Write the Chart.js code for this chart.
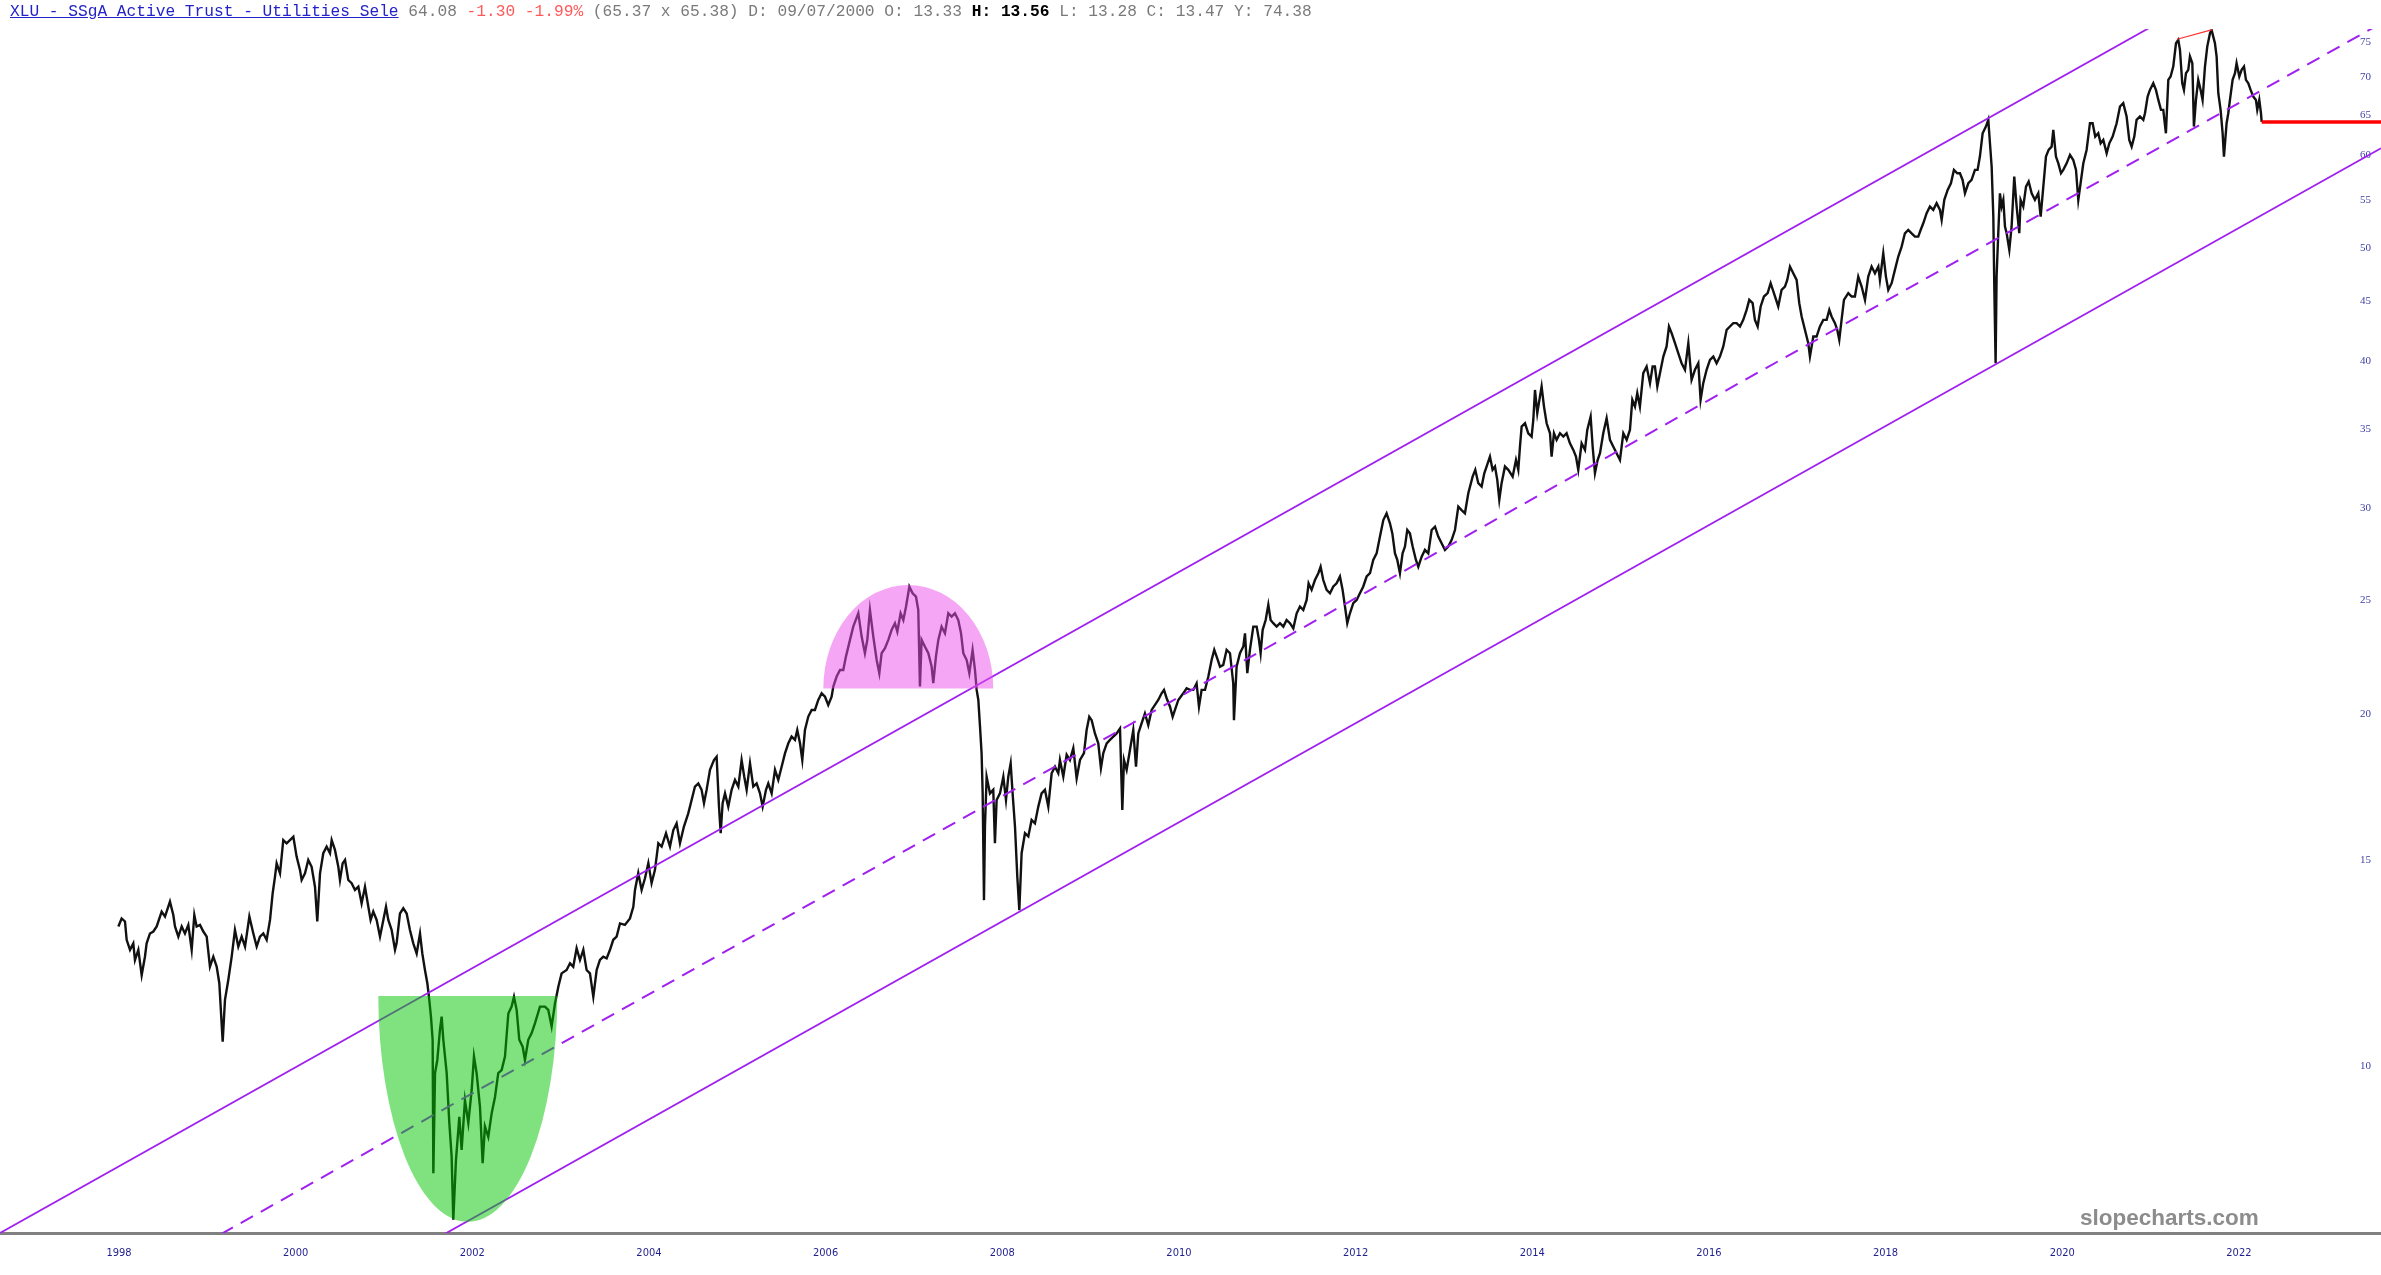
<!DOCTYPE html>
<html><head><meta charset="utf-8">
<script src="https://cdn.jsdelivr.net/npm/chart.js@4.4.1/dist/chart.umd.min.js"></script>
<style>
html,body{margin:0;padding:0;background:#fff;}
#wrap{position:relative;width:2381px;height:1275px;overflow:hidden;background:#fff;}
#c{position:absolute;left:0;top:0;}
#hdr{position:absolute;left:10px;top:3px;font-family:'Liberation Mono','DejaVu Sans Mono',monospace;font-size:16.2px;line-height:18px;white-space:pre;color:#7a7a7a;}
#hdr .lnk{color:#2323c8;text-decoration:underline;}
#hdr .neg{color:#ff5a5a;}
#hdr .b{color:#000;font-weight:bold;}
#wm{position:absolute;left:2080px;top:1206px;font-family:'Liberation Sans',Arial,sans-serif;font-weight:bold;font-size:22.5px;line-height:24px;color:#8c8c8c;white-space:pre;}
</style></head>
<body><div id="wrap">
<canvas id="c" width="2381" height="1275"></canvas>
<div id="hdr"><span class="lnk">XLU - SSgA Active Trust - Utilities Sele</span> 64.08 <span class="neg">-1.30 -1.99%</span> (65.37 x 65.38) D: 09/07/2000 O: 13.33 <span class="b">H: 13.56</span> L: 13.28 C: 13.47 Y: 74.38</div>
<div id="wm">slopecharts.com</div>
</div>
<script>
const xTickLabels = ['1998','2000','2002','2004','2006','2008','2010','2012','2014','2016','2018','2020','2022'];
const yTickValues = [10,15,20,25,30,35,40,45,50,55,60,65,70,75];
const xRange = [1996.653, 2023.609];
const yRange = [7.2, 76.94];

const priceDates = [
1997.993,1998.030,1998.068,1998.087,1998.125,1998.162,1998.181,1998.219,1998.257,1998.294,
1998.313,1998.351,1998.389,1998.427,1998.483,1998.521,1998.577,1998.615,1998.634,1998.672,
1998.710,1998.747,1998.785,1998.823,1998.853,1998.879,1998.917,1998.955,1998.993,1999.030,
1999.068,1999.106,1999.136,1999.174,1999.200,1999.238,1999.276,1999.313,1999.351,1999.389,
1999.427,1999.476,1999.521,1999.559,1999.596,1999.634,1999.672,1999.710,1999.740,1999.766,
1999.785,1999.823,1999.860,1999.898,1999.936,1999.974,2000.011,2000.049,2000.068,2000.106,
2000.143,2000.181,2000.219,2000.245,2000.276,2000.313,2000.351,2000.389,2000.408,2000.445,
2000.483,2000.502,2000.532,2000.559,2000.596,2000.634,2000.672,2000.710,2000.747,2000.785,
2000.823,2000.849,2000.879,2000.917,2000.955,2000.993,2001.023,2001.049,2001.087,2001.125,
2001.143,2001.181,2001.219,2001.257,2001.294,2001.332,2001.370,2001.408,2001.434,2001.464,
2001.491,2001.513,2001.532,2001.551,2001.559,2001.578,2001.604,2001.634,2001.653,2001.672,
2001.710,2001.740,2001.766,2001.785,2001.815,2001.853,2001.879,2001.917,2001.955,2001.993,
2002.019,2002.049,2002.087,2002.117,2002.143,2002.181,2002.219,2002.257,2002.294,2002.332,
2002.370,2002.408,2002.445,2002.472,2002.502,2002.532,2002.570,2002.596,2002.634,2002.672,
2002.710,2002.766,2002.823,2002.860,2002.898,2002.936,2002.974,2003.011,2003.068,2003.106,
2003.143,2003.181,2003.219,2003.257,2003.294,2003.332,2003.370,2003.408,
2003.445,2003.483,2003.521,2003.559,2003.596,2003.634,2003.672,2003.728,2003.785,2003.823,
2003.842,2003.879,2003.917,2003.955,2003.993,2004.030,2004.068,2004.106,2004.144,2004.193,
2004.238,2004.276,2004.313,2004.351,2004.396,2004.445,2004.483,2004.521,2004.559,2004.596,
2004.623,2004.653,2004.691,2004.736,2004.766,2004.793,2004.812,2004.834,2004.861,2004.898,
2004.936,2004.974,2005.012,2005.049,2005.079,2005.106,2005.144,2005.181,2005.219,2005.257,
2005.287,2005.325,2005.351,2005.389,2005.427,2005.464,2005.502,2005.540,2005.578,2005.615,
2005.653,2005.679,2005.710,2005.736,2005.766,2005.804,2005.842,2005.879,2005.917,2005.955,
2005.993,2006.030,2006.068,2006.087,2006.125,2006.163,2006.200,2006.230,2006.276,2006.313,
2006.370,2006.408,2006.445,2006.472,2006.502,2006.540,2006.578,2006.608,2006.634,2006.672,
2006.710,2006.747,2006.785,2006.812,2006.849,2006.880,2006.910,2006.948,2006.985,2007.023,
2007.049,2007.068,2007.087,2007.125,2007.163,2007.200,2007.219,2007.249,2007.276,2007.313,
2007.351,2007.389,2007.427,2007.464,2007.502,2007.533,2007.559,2007.597,2007.627,2007.664,
2007.691,2007.710,2007.729,2007.748,2007.766,2007.778,2007.793,2007.804,2007.823,2007.861,
2007.898,2007.917,2007.936,2007.974,2008.012,2008.042,2008.068,2008.095,2008.117,2008.144,
2008.170,2008.193,2008.219,2008.257,2008.295,2008.332,2008.370,2008.408,2008.445,2008.483,
2008.521,2008.559,2008.597,2008.634,
2008.653,2008.691,2008.729,2008.766,2008.804,2008.842,2008.880,2008.925,2008.955,2008.985,
2009.012,2009.049,2009.087,2009.117,2009.144,2009.182,2009.219,2009.257,2009.295,2009.333,
2009.359,2009.378,2009.408,2009.446,2009.483,2009.514,2009.540,2009.578,2009.615,2009.653,
2009.691,2009.729,2009.766,2009.804,2009.831,2009.861,2009.899,2009.929,2009.955,2009.993,
2010.049,2010.087,2010.125,2010.163,2010.200,2010.227,2010.257,2010.295,2010.333,2010.370,
2010.400,2010.427,2010.465,2010.502,2010.540,2010.578,2010.615,2010.623,2010.653,2010.691,
2010.729,2010.748,2010.774,2010.804,2010.842,2010.880,2010.906,2010.925,2010.948,2010.982,
2011.012,2011.038,2011.068,2011.106,2011.144,2011.182,2011.219,2011.257,2011.295,2011.333,
2011.370,2011.408,2011.446,2011.468,2011.502,2011.540,2011.578,2011.604,2011.634,2011.672,
2011.710,2011.748,2011.785,2011.823,2011.853,2011.880,2011.906,2011.936,2011.974,2012.012,
2012.049,2012.087,2012.125,2012.163,2012.200,2012.238,2012.276,2012.314,2012.351,2012.389,
2012.416,2012.446,2012.472,2012.502,2012.532,2012.559,2012.585,2012.615,2012.646,2012.683,
2012.710,2012.748,2012.785,2012.823,2012.861,2012.899,2012.936,2012.974,2013.012,2013.049,
2013.087,2013.125,2013.163,2013.200,2013.238,2013.276,2013.325,2013.355,2013.389,2013.427,
2013.457,2013.483,2013.521,2013.551,2013.578,2013.604,2013.627,2013.653,2013.691,2013.729,
2013.778,2013.816,2013.842,2013.861,
2013.880,2013.918,2013.955,2013.993,2014.012,2014.031,2014.057,2014.087,2014.106,2014.133,
2014.163,2014.201,2014.219,2014.246,2014.276,2014.314,2014.352,2014.389,2014.427,2014.465,
2014.495,2014.521,2014.559,2014.597,2014.623,2014.661,2014.684,2014.710,2014.740,2014.767,
2014.804,2014.842,2014.880,2014.918,2014.955,2014.993,2015.031,2015.069,2015.106,2015.133,
2015.163,2015.189,2015.219,2015.257,2015.295,2015.333,2015.363,2015.389,2015.416,2015.446,
2015.484,2015.521,2015.548,2015.578,2015.616,2015.653,2015.691,2015.729,2015.767,2015.804,
2015.842,2015.880,2015.906,2015.936,2015.974,2016.012,2016.050,2016.087,2016.125,2016.163,
2016.201,2016.238,2016.276,2016.314,2016.352,2016.389,2016.427,2016.457,2016.495,2016.521,
2016.552,2016.586,2016.623,2016.665,2016.699,2016.736,2016.785,2016.823,2016.861,2016.887,
2016.918,2016.955,2016.993,2017.023,2017.050,2017.087,2017.125,2017.144,2017.182,2017.219,
2017.257,2017.295,2017.333,2017.363,2017.389,2017.427,2017.453,2017.476,2017.502,2017.529,
2017.578,2017.616,2017.653,2017.691,2017.729,2017.767,2017.804,2017.842,2017.880,2017.918,
2017.936,2017.974,2018.004,2018.031,2018.069,2018.106,2018.144,2018.182,2018.219,2018.257,
2018.295,2018.333,2018.370,2018.397,2018.427,2018.465,2018.502,2018.540,2018.578,2018.616,
2018.635,2018.665,2018.703,2018.740,2018.774,2018.812,2018.842,2018.872,2018.899,2018.937,
2018.974,2019.012,2019.042,2019.068,2019.099,2019.136,2019.163,2019.182,2019.201,
2019.220,2019.231,2019.246,2019.257,2019.276,2019.295,2019.314,2019.333,2019.352,2019.371,
2019.401,2019.427,2019.457,2019.484,2019.514,2019.529,2019.559,2019.590,2019.620,2019.654,
2019.691,2019.729,2019.756,2019.786,2019.816,2019.846,2019.880,2019.899,2019.929,2019.956,
2019.986,2020.012,2020.050,2020.088,2020.125,2020.156,2020.182,2020.208,2020.239,2020.276,
2020.314,2020.344,2020.374,2020.408,2020.435,2020.465,2020.503,2020.533,2020.571,2020.616,
2020.654,2020.691,2020.729,2020.759,2020.786,2020.816,2020.842,2020.880,2020.918,2020.937,
2020.967,2020.993,2021.031,2021.061,2021.088,2021.118,2021.144,2021.174,2021.201,2021.227,
2021.257,2021.288,2021.314,2021.333,2021.359,2021.378,2021.401,2021.427,2021.446,2021.473,
2021.491,2021.514,2021.540,2021.567,2021.589,2021.616,2021.642,2021.673,2021.691,2021.710,
2021.729,2021.748,2021.767,2021.793,2021.816,2021.831,2021.846,2021.861,2021.880,2021.899,
2021.929,2021.956,2021.974,2022.005,2022.031,2022.058,2022.080,2022.107,2022.133,2022.163,
2022.193,2022.208,2022.231,2022.250,2022.258
];
const priceValues = [
13.16,13.37,13.29,12.82,12.57,12.73,12.32,12.57,11.96,12.40,
12.73,12.98,13.03,13.16,13.55,13.42,13.82,13.46,13.16,12.90,
13.16,12.98,13.20,12.57,13.46,13.16,13.20,13.03,12.90,12.16,
12.40,12.16,11.77,10.49,11.39,11.85,12.40,13.07,12.65,12.90,
12.65,13.42,12.98,12.65,12.90,12.98,12.82,13.33,14.05,14.51,
14.90,14.61,15.60,15.50,15.60,15.70,15.10,14.71,14.42,14.61,
15.00,14.80,14.23,13.29,14.61,15.20,15.40,15.20,15.60,15.30,
14.80,14.42,14.90,15.00,14.42,14.33,14.14,14.23,13.77,14.23,
13.68,13.33,13.55,13.33,12.90,13.33,13.68,13.33,13.07,12.57,
12.73,13.50,13.64,13.50,13.07,12.73,12.48,12.98,12.48,12.08,
11.77,11.39,11.02,10.53,8.10,9.86,10.12,10.74,11.02,10.53,
9.86,8.94,8.37,7.39,8.31,9.05,8.48,9.35,8.94,9.54,
10.19,9.86,9.23,8.26,8.88,8.70,9.11,9.41,9.86,9.92,
10.19,11.09,11.24,11.46,11.17,10.53,10.39,10.12,10.53,10.67,
10.88,11.24,11.24,11.17,10.81,11.31,11.69,12.00,12.08,12.24,
12.16,12.61,12.32,12.57,12.08,12.00,11.46,12.08,
12.32,12.40,12.36,12.57,12.82,12.90,13.24,13.20,13.37,13.68,
14.14,14.62,14.14,14.47,14.91,14.33,14.71,15.50,15.40,15.81,
15.40,15.91,16.12,15.50,16.02,16.44,16.88,17.33,17.44,17.22,
16.77,17.22,17.91,18.26,18.38,16.66,15.81,16.77,17.10,16.66,
17.22,17.56,17.33,18.26,17.67,17.22,18.14,17.33,17.44,17.10,
16.66,17.22,17.44,17.10,17.91,17.56,18.02,18.50,18.87,19.12,
19.00,19.37,18.87,18.26,19.37,19.89,20.15,20.15,20.55,20.82,
20.68,20.35,20.68,21.10,21.52,21.80,21.80,22.38,23.13,23.74,
24.37,23.28,22.53,23.13,24.53,23.28,22.23,21.66,22.53,22.75,
23.13,23.58,23.90,23.51,24.37,24.05,24.69,25.68,25.35,25.18,
24.53,21.10,23.13,22.82,22.53,21.95,21.24,22.38,23.13,23.74,
23.43,24.37,24.21,24.37,24.05,23.43,22.53,22.23,21.66,22.67,
21.80,20.96,20.55,19.50,18.50,17.10,13.86,16.02,17.67,17.10,
17.22,15.50,16.88,17.10,17.67,16.88,17.67,18.14,17.10,16.02,
14.52,13.59,15.20,15.81,15.71,16.23,16.12,16.66,17.10,17.22,
16.66,17.79,18.02,17.79,
18.26,17.67,18.45,18.26,18.69,17.61,18.26,18.51,19.37,19.88,
19.75,19.24,18.87,17.97,18.51,18.87,19.00,19.12,19.24,19.43,
16.55,18.26,17.91,18.63,19.37,18.02,19.24,19.63,20.01,19.56,
20.15,20.35,20.55,20.82,20.96,20.62,20.28,19.88,20.15,20.55,
20.82,21.03,20.96,20.96,21.23,20.28,20.96,20.96,21.52,22.23,
22.68,22.38,21.94,22.02,22.68,22.53,21.23,19.75,21.94,22.53,
22.83,23.43,21.66,22.68,23.74,23.74,23.13,22.53,23.59,24.05,
24.78,24.05,23.90,23.74,23.90,23.74,24.05,23.90,23.66,24.37,
24.70,24.53,25.02,25.85,25.52,26.02,26.37,26.71,26.02,25.52,
25.35,25.69,25.85,26.20,25.52,24.70,23.90,24.37,24.86,25.02,
25.35,25.69,26.20,26.37,27.07,27.42,28.34,29.28,29.67,29.09,
28.52,27.42,27.07,26.37,27.42,27.79,28.71,28.52,27.79,27.07,
26.71,27.24,27.61,27.42,28.71,28.90,28.34,27.97,27.61,27.79,
28.15,28.71,30.06,29.86,29.67,30.86,31.89,32.32,31.48,31.27,
32.10,32.53,33.17,32.32,32.53,31.69,30.46,31.48,32.53,32.32,
31.89,32.95,32.32,33.83,
35.19,35.42,34.73,34.50,35.65,37.82,36.13,37.33,38.08,36.60,
35.42,34.73,33.17,34.73,34.28,34.73,34.50,34.73,34.05,33.61,
33.17,32.31,34.05,33.61,34.96,35.89,33.82,32.11,32.95,33.39,
34.73,35.77,34.28,33.82,33.39,32.95,34.73,34.28,34.96,37.09,
36.60,37.58,36.60,39.09,39.60,38.33,39.60,39.60,38.08,39.09,
40.39,41.20,42.85,42.29,41.46,40.66,39.86,39.35,41.46,38.58,
39.35,39.86,37.09,38.33,39.35,40.12,40.39,39.86,40.39,41.20,
42.57,42.85,43.13,43.13,42.85,43.41,44.27,45.15,44.86,43.41,
42.85,44.57,45.45,45.75,46.66,45.75,44.57,46.05,46.35,46.96,
48.21,47.58,46.96,44.86,43.70,42.57,41.46,40.39,42.01,42.01,
42.85,43.41,43.41,44.27,43.70,43.13,42.57,41.74,43.41,45.15,
45.75,45.45,45.45,47.27,46.35,45.15,47.27,48.21,47.58,48.21,
46.96,49.49,47.27,46.05,46.66,47.90,49.17,50.14,51.47,51.81,
51.47,51.14,51.14,51.81,52.50,53.55,54.26,53.90,54.61,53.90,
52.85,54.98,56.06,56.80,58.31,57.93,57.93,57.17,55.70,56.80,
57.17,58.31,58.31,59.86,62.67,63.50,64.34,61.45,58.70,
53.20,46.36,39.86,47.28,51.48,55.69,54.25,54.97,52.17,51.48,
49.82,52.17,57.55,54.25,51.48,54.97,54.25,56.43,56.99,55.69,
54.97,55.69,53.20,56.43,59.86,60.65,61.04,63.08,59.86,59.07,
57.93,58.31,59.07,60.06,59.46,58.31,54.97,56.80,59.07,60.65,
63.92,63.92,62.26,62.67,61.44,61.85,60.26,61.44,62.26,63.92,
66.06,66.49,64.77,61.85,61.04,62.26,64.34,64.77,64.34,65.19,
67.36,68.25,69.15,68.25,66.92,65.62,65.62,62.67,69.61,70.07,
71.46,74.81,75.30,73.84,69.15,68.25,70.53,70.99,72.89,71.93,
63.50,66.92,69.61,68.25,66.92,71.46,74.32,76.30,76.80,75.80,
74.81,72.89,67.81,65.62,62.67,59.86,61.85,63.92,65.19,66.92,
69.61,70.53,71.93,70.07,70.99,71.46,69.61,69.15,68.25,67.36,
66.92,65.62,66.92,65.19,64.08
];

// trend channel (date, price) anchors
const upperChannel = [[1996.653, 7.20], [2023.609, 99.57]];
const midChannel   = [[1996.653, 5.63], [2023.609, 77.80]];
const lowerChannel = [[1996.653, 4.40], [2023.609, 60.84]];
const peakLine     = [[2021.30, 75.40], [2021.70, 76.85]];
const lastCloseLine = [[2022.258, 64.08], [2023.609, 64.08]];
// annotation shapes: [startDate, endDate, flatPrice, extremePrice]
const cupShape  = [2000.936, 2002.962, 11.48, 7.36];
const domeShape = [2005.974, 2007.898, 21.02, 25.77];

const toXY = arr => arr.map(p => ({x: p[0], y: p[1]}));
const priceXY = priceDates.map((d, i) => ({x: d, y: priceValues[i]}));

const shapesPlugin = {
  id: 'shapes',
  afterDatasetsDraw(chart) {
    const {ctx, chartArea: a, scales: {x, y}} = chart;
    ctx.save();
    ctx.beginPath(); ctx.rect(a.left, a.top, a.right - a.left, a.bottom - a.top); ctx.clip();
    const half = (s, color, up) => {
      const x0 = x.getPixelForValue(s[0]), x1 = x.getPixelForValue(s[1]);
      const yf = y.getPixelForValue(s[2]), ye = y.getPixelForValue(s[3]);
      ctx.fillStyle = color;
      ctx.beginPath();
      if (up) ctx.ellipse((x0 + x1) / 2, yf, (x1 - x0) / 2, yf - ye, 0, Math.PI, 2 * Math.PI);
      else ctx.ellipse((x0 + x1) / 2, yf, (x1 - x0) / 2, ye - yf, 0, 0, Math.PI);
      ctx.closePath();
      ctx.fill();
    };
    half(cupShape, 'rgba(0,197,0,0.5)', false);
    half(domeShape, 'rgba(236,80,236,0.5)', true);
    ctx.restore();
  }
};

const labelFont = "'Liberation Sans Narrow','DejaVu Sans Condensed','Liberation Sans',sans-serif";

new Chart(document.getElementById('c'), {
  type: 'line',
  data: {
    datasets: [
      {data: toXY(upperChannel), borderColor: '#a020f0', borderWidth: 1.8, pointRadius: 0, order: 1},
      {data: toXY(midChannel), borderColor: '#a020f0', borderWidth: 2, borderDash: [14, 9], pointRadius: 0, order: 1},
      {data: toXY(lowerChannel), borderColor: '#a020f0', borderWidth: 1.8, pointRadius: 0, order: 1},
      {data: toXY(peakLine), borderColor: '#ff3030', borderWidth: 1.2, pointRadius: 0, order: 1},
      {data: toXY(lastCloseLine), borderColor: '#ff0000', borderWidth: 3.5, pointRadius: 0, order: 1},
      {data: priceXY, borderColor: '#111111', borderWidth: 2.4, pointRadius: 0, tension: 0, order: 5}
    ]
  },
  options: {
    responsive: false,
    animation: false,
    devicePixelRatio: 1,
    events: [],
    layout: {padding: {top: 29, left: 0, right: 0, bottom: 0}},
    plugins: {legend: {display: false}, tooltip: {enabled: false}},
    scales: {
      x: {
        type: 'linear', position: 'bottom', min: xRange[0], max: xRange[1], bounds: 'data',
        grid: {display: false, drawTicks: false, tickLength: 0},
        border: {display: true, color: '#808080', width: 3},
        afterBuildTicks: s => { s.ticks = xTickLabels.map(l => ({value: Number(l)})); },
        afterFit: s => { s.height = 42; },
        ticks: {
          padding: 14, maxRotation: 0, autoSkip: false, color: '#1f1f8f',
          font: {family: labelFont, size: 11},
          callback: v => { const i = xTickLabels.indexOf(String(v)); return i >= 0 ? xTickLabels[i] : ''; }
        }
      },
      y: {
        type: 'logarithmic', position: 'right', min: yRange[0], max: yRange[1], bounds: 'data',
        grid: {display: false, drawTicks: false, tickLength: 0},
        border: {display: false},
        afterBuildTicks: s => { s.ticks = yTickValues.map(v => ({value: v})); },
        afterFit: s => { s.width = 0; },
        ticks: {
          mirror: true, padding: -10, autoSkip: false, color: '#4040a8',
          font: {family: "'Liberation Serif','DejaVu Serif',serif", size: 11},
          callback: v => String(v)
        }
      }
    }
  },
  plugins: [shapesPlugin]
});
</script>
</body></html>
